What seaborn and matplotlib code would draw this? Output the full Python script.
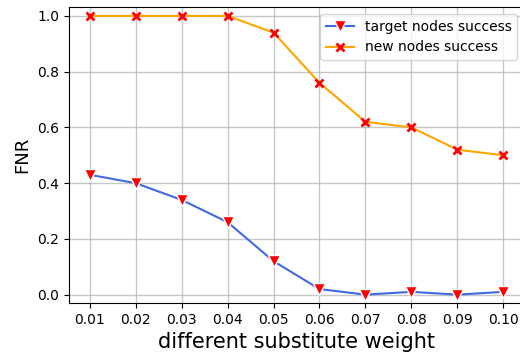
import matplotlib
matplotlib.use("Agg")
import matplotlib.pyplot as plt
import seaborn as sns
import pandas as pd

weights = [0.01, 0.02, 0.03, 0.04, 0.05, 0.06, 0.07, 0.08, 0.09, 0.10]
tick_labels = ["0.01", "0.02", "0.03", "0.04", "0.05", "0.06", "0.07", "0.08", "0.09", "0.10"]
target_success = [0.43, 0.40, 0.34, 0.26, 0.12, 0.02, 0.0, 0.01, 0.0, 0.01]
new_success = [1.0, 1.0, 1.0, 1.0, 0.94, 0.76, 0.62, 0.60, 0.52, 0.50]

plt.rcParams['font.family'] = ['DejaVu Sans']
fig = plt.figure(figsize=(5.2, 3.54), dpi=100)
ax = fig.add_axes([69/520, 1-303/354, 455/520, 296/354])

df = pd.DataFrame({"w": weights, "t": target_success, "n": new_success})
sns.lineplot(data=df, x="w", y="t", ax=ax, color="royalblue", marker="v",
             markersize=8, markerfacecolor="red", markeredgecolor="white",
             markeredgewidth=1, label="target nodes success", linewidth=1.5)
sns.lineplot(data=df, x="w", y="n", ax=ax, color="orange", marker="x",
             markersize=6, markeredgecolor="red", markeredgewidth=2,
             label="new nodes success", linewidth=1.5)

ax.set_xticks(weights)
ax.set_xticklabels(tick_labels, fontsize=10)
ax.set_yticks([0.0, 0.2, 0.4, 0.6, 0.8, 1.0])
ax.set_yticklabels(["0.0", "0.2", "0.4", "0.6", "0.8", "1.0"], fontsize=10)
ax.set_xlim(0.0055, 0.1045)
ax.set_ylim(-0.03, 1.032)
ax.grid(True, color="#b0b0b0", linewidth=1, alpha=0.7)
ax.set_axisbelow(True)
ax.set_xlabel("different substitute weight", fontsize=15)
ax.set_ylabel("FNR", fontsize=13)
ax.legend(loc="upper right", fontsize=10)
fig.savefig("out.png", dpi=100)
